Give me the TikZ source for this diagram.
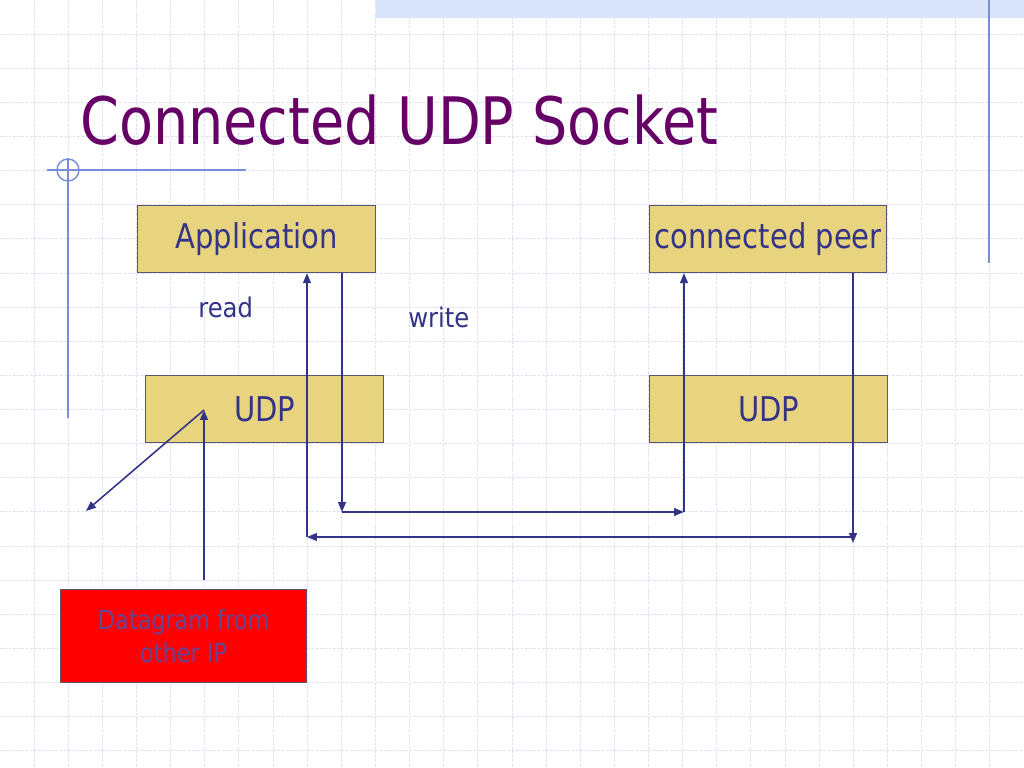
\documentclass[tikz,border=0pt]{standalone}
\usepackage{fontspec}
\setmainfont{DejaVu Sans}[FakeStretch=0.85]
\newfontfamily\lblfont{DejaVu Sans}[FakeStretch=0.9]
\usetikzlibrary{arrows.meta}
\definecolor{titlec}{RGB}{102,0,102}
\definecolor{txtc}{RGB}{51,51,136}
\definecolor{boxfill}{RGB}{232,212,126}
\definecolor{boxline}{RGB}{90,84,110}
\definecolor{gridc}{RGB}{220,227,247}
\definecolor{decoc}{RGB}{120,140,218}
\definecolor{bandc}{RGB}{218,228,250}
\definecolor{arrc}{RGB}{51,51,136}
\definecolor{redtxt}{RGB}{100,70,150}
\begin{document}
\begin{tikzpicture}[x=0.703125pt,y=-0.703125pt,
  boxnode/.style={draw=boxline,line width=0.8pt,fill=boxfill,text=txtc,font=\fontsize{24}{28}\selectfont,inner sep=0pt,anchor=north west},
  lbl/.style={text=txtc,font=\lblfont\fontsize{19}{22}\selectfont,inner sep=0pt},
  conn/.style={draw=arrc,line width=1.1pt,-{Triangle[length=7pt,width=5.5pt]}},
  deco/.style={draw=decoc,line width=1pt}]
\useasboundingbox (0,0) rectangle (1024,768);
\fill[white] (0,0) rectangle (1024,768);
% grid
\foreach \i in {1,...,29} {\draw[gridc,line width=0.7pt,dash pattern=on 2pt off 1pt] ({\i*34.133},0) -- ({\i*34.133},768);}
\foreach \j in {1,...,22} {\draw[gridc,line width=0.7pt,dash pattern=on 2pt off 1pt] (0,{\j*34.133}) -- (1024,{\j*34.133});}
% top band
\fill[bandc] (376,0) rectangle (1024,18);
% decorations
\draw[deco] (989,0) -- (989,263);
\draw[deco] (47,170) -- (246,170);
\draw[deco] (68,158) -- (68,418);
\draw[deco] (68,170) circle[radius=11];
% title
\node[text=titlec,font=\fontsize{46}{52}\selectfont,anchor=base west,inner sep=0pt] (title) at (80,145) {Connected UDP Socket};
% boxes
\node[boxnode,minimum width=238*0.703125pt,minimum height=67*0.703125pt] (app) at (137,205) {Application};
\node[boxnode,minimum width=237*0.703125pt,minimum height=67*0.703125pt] (peer) at (649,205) {connected peer};
\node[boxnode,minimum width=238*0.703125pt,minimum height=67*0.703125pt] (udpl) at (145,375) {UDP};
\node[boxnode,minimum width=238*0.703125pt,minimum height=67*0.703125pt] (udpr) at (649,375) {UDP};
\node[draw=boxline,line width=0.8pt,fill=red,text=redtxt,font=\fontsize{18.5}{23.5}\selectfont,inner sep=0pt,anchor=north west,
  minimum width=246*0.703125pt,minimum height=93*0.703125pt,align=center] (dgram) at (60,589) {Datagram from\\other IP};
% labels
\node[lbl,anchor=base west] (read) at (198,318) {read};
\node[lbl,anchor=base west] (write) at (408,327) {write};
% coordinates
\coordinate (a1) at (307,537);
\coordinate (a2) at (342,512);
\coordinate (a3) at (684,512);
\coordinate (p1) at (853,543);
\coordinate (p2) at (853,537);
\coordinate (u1) at (204,410);
\coordinate (u2) at (86,511);
\coordinate (d1) at (204,580);
% connectors
\draw[conn] (a1) -- (a1 |- app.south);
\draw[conn] (app.south -| a2) -- (a2);
\draw[conn] (a2) -- (a3);
\draw[conn] (a3) -- (a3 |- peer.south);
\draw[conn] (peer.south -| p1) -- (p1);
\draw[conn] (p2) -- (a1);
\draw[conn] (u1) -- (u2);
\draw[conn] (d1) -- (u1);
\end{tikzpicture}
\end{document}
